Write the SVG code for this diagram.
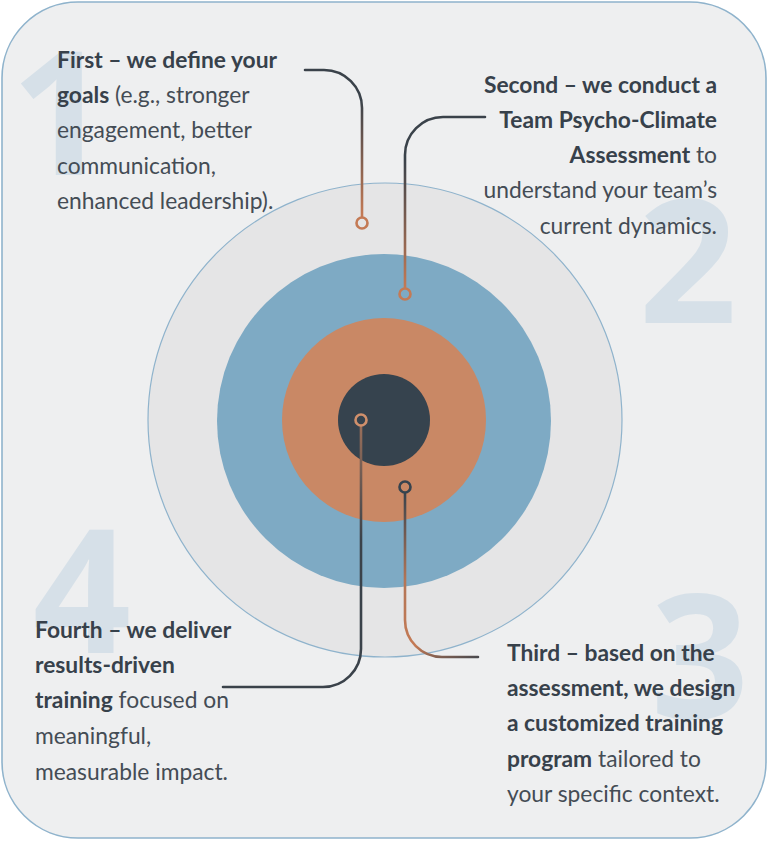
<svg xmlns="http://www.w3.org/2000/svg" width="768" height="841" viewBox="0 0 768 841">
<defs>
<style>
.num{font-family:"Open Sans","Liberation Sans",sans-serif;font-weight:700;font-size:172px;fill:#d6e0e8;text-anchor:middle}
.t{font-family:Lato,"Liberation Sans",sans-serif;font-size:22.8px;fill:#444c55}
.b{font-weight:700;fill:#37414b}
.r{text-anchor:end}
.ln{fill:none;stroke-width:2.6;stroke-linecap:round}
.dot{fill:none;stroke-width:2.6}
</style>
<linearGradient id="g1" gradientUnits="userSpaceOnUse" x1="0" y1="100" x2="0" y2="215">
<stop offset="0" stop-color="#3a424a"/><stop offset="1" stop-color="#c47a55"/>
</linearGradient>
<linearGradient id="g2" gradientUnits="userSpaceOnUse" x1="0" y1="160" x2="0" y2="288">
<stop offset="0" stop-color="#3a424a"/><stop offset="1" stop-color="#c47a55"/>
</linearGradient>
<linearGradient id="g3" gradientUnits="userSpaceOnUse" x1="405" y1="493" x2="478" y2="657">
<stop offset="0" stop-color="#39434d"/><stop offset="0.45" stop-color="#b47657"/><stop offset="0.8" stop-color="#c47a55"/><stop offset="1" stop-color="#4a4a4e"/>
</linearGradient>
<linearGradient id="g4" gradientUnits="userSpaceOnUse" x1="0" y1="426" x2="0" y2="540">
<stop offset="0" stop-color="#9a6f5a"/><stop offset="1" stop-color="#3a424a"/>
</linearGradient>
</defs>
<rect x="2" y="2" width="764" height="836" rx="76" ry="76" fill="#eeeff0" stroke="#8fb3cc" stroke-width="1.6"/>
<g id="numbers">
<text class="num" x="60" y="175">1</text>
<text class="num" x="688" y="323">2</text>
<text class="num" x="700" y="718">3</text>
<text class="num" x="82" y="653">4</text>
</g>
<g id="target">
<circle cx="385" cy="420" r="237" fill="#e5e5e6" stroke="#8fb3cc" stroke-width="1.2"/>
<circle cx="384" cy="421" r="167" fill="#7eaac4"/>
<circle cx="384" cy="420" r="102" fill="#c98865"/>
<circle cx="384" cy="420" r="46" fill="#36434e"/>
</g>
<g id="connectors">
<path class="ln" stroke="url(#g1)" d="M305,70 H324 A38,38 0 0 1 362,108 V217"/>
<circle class="dot" cx="362" cy="223" r="5.5" stroke="#c47a55"/>
<path class="ln" stroke="url(#g2)" d="M485,117 H443 A38,38 0 0 0 405,155 V288"/>
<circle class="dot" cx="405" cy="294" r="5.5" stroke="#c47a55"/>
<path class="ln" stroke="url(#g3)" d="M405,493 V620 A37,37 0 0 0 442,657 H478"/>
<circle class="dot" cx="405" cy="487" r="5.5" stroke="#36434e"/>
<path class="ln" stroke="url(#g4)" d="M361,426 V649 A38,38 0 0 1 323,687 H223"/>
<circle class="dot" cx="361" cy="420" r="5.5" stroke="#d0906c"/>
</g>
<g id="step1">
<text class="t" x="57" y="68"><tspan class="b">First – we define your</tspan></text>
<text class="t" x="57" y="103"><tspan class="b">goals</tspan> (e.g., stronger</text>
<text class="t" x="57" y="138">engagement, better</text>
<text class="t" x="57" y="174">communication,</text>
<text class="t" x="57" y="209">enhanced leadership).</text>
</g>
<g id="step2">
<text class="t r" x="717" y="93"><tspan class="b">Second – we conduct a</tspan></text>
<text class="t r" x="717" y="128"><tspan class="b">Team Psycho-Climate</tspan></text>
<text class="t r" x="717" y="163"><tspan class="b">Assessment</tspan> to</text>
<text class="t r" x="717" y="198">understand your team’s</text>
<text class="t r" x="717" y="234">current dynamics.</text>
</g>
<g id="step3">
<text class="t" x="507" y="661"><tspan class="b">Third – based on the</tspan></text>
<text class="t" x="507" y="696"><tspan class="b">assessment, we design</tspan></text>
<text class="t" x="507" y="731"><tspan class="b">a customized training</tspan></text>
<text class="t" x="507" y="767"><tspan class="b">program</tspan> tailored to</text>
<text class="t" x="507" y="802">your specific context.</text>
</g>
<g id="step4">
<text class="t" x="35" y="638"><tspan class="b">Fourth – we deliver</tspan></text>
<text class="t" x="35" y="673"><tspan class="b">results-driven</tspan></text>
<text class="t" x="35" y="708"><tspan class="b">training</tspan> focused on</text>
<text class="t" x="35" y="744">meaningful,</text>
<text class="t" x="35" y="780">measurable impact.</text>
</g>
</svg>
